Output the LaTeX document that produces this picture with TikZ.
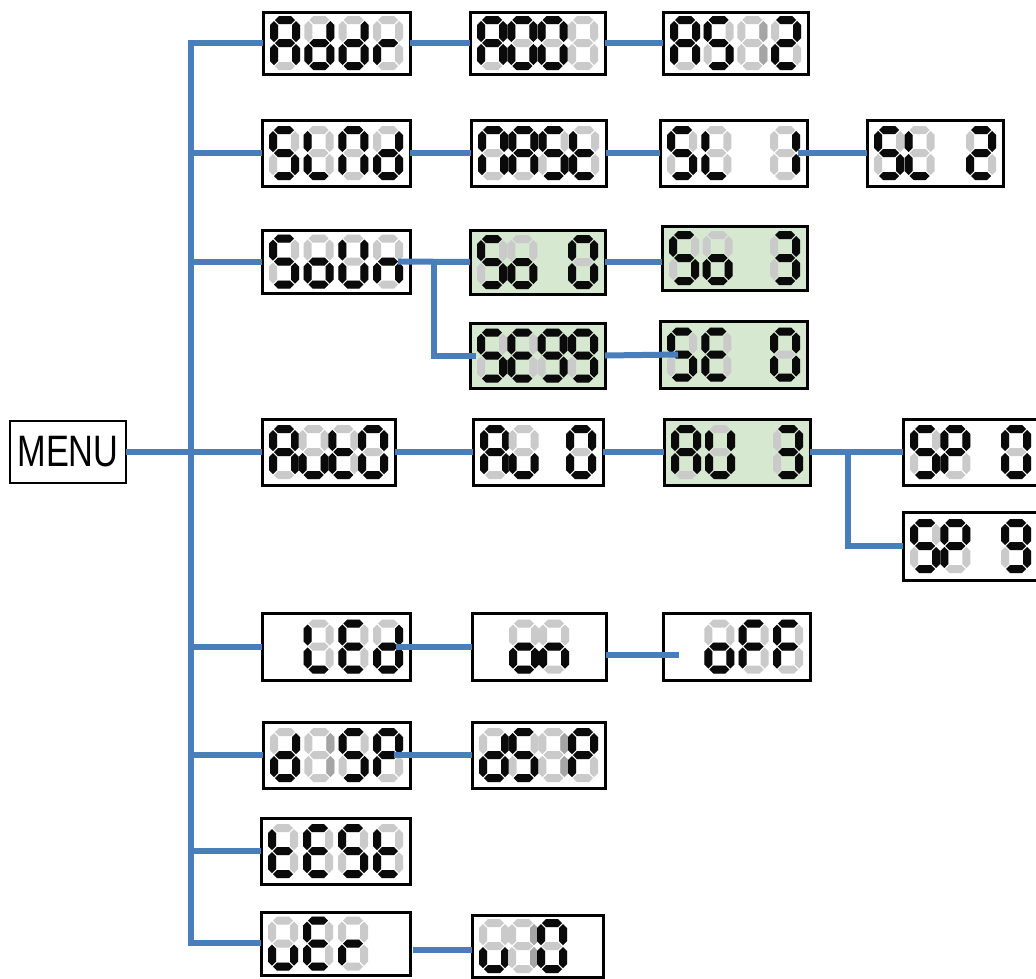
\documentclass[tikz,border=0pt]{standalone}
\usepackage{fontspec}
\usepackage{graphicx}
\newfontfamily\menufont{Liberation Sans}
\definecolor{connc}{RGB}{74,126,187}
\definecolor{lcdgreen}{RGB}{214,232,208}
\definecolor{segoff}{RGB}{202,202,202}
\definecolor{segmid}{RGB}{165,165,165}
\definecolor{segon}{RGB}{10,10,10}
% seven segments (digit 30 x 54, thickness 8), origin top-left, y down
\expandafter\def\csname sgma\endcsname#1{\fill[#1] (5,4)--(9,0)--(21,0)--(25,4)--(21,8)--(9,8)--cycle;}
\expandafter\def\csname sgmg\endcsname#1{\fill[#1] (5,27)--(9,23)--(21,23)--(25,27)--(21,31)--(9,31)--cycle;}
\expandafter\def\csname sgmd\endcsname#1{\fill[#1] (5,50)--(9,46)--(21,46)--(25,50)--(21,54)--(9,54)--cycle;}
\expandafter\def\csname sgmf\endcsname#1{\fill[#1] (4,5)--(8,9)--(8,22)--(4,26)--(0,22)--(0,9)--cycle;}
\expandafter\def\csname sgme\endcsname#1{\fill[#1] (4,28)--(8,32)--(8,45)--(4,49)--(0,45)--(0,32)--cycle;}
\expandafter\def\csname sgmb\endcsname#1{\fill[#1] (26,5)--(30,9)--(30,22)--(26,26)--(22,22)--(22,9)--cycle;}
\expandafter\def\csname sgmc\endcsname#1{\fill[#1] (26,28)--(30,32)--(30,45)--(26,49)--(22,45)--(22,32)--cycle;}
\def\blankmark{-}
\def\fademark{m}
\def\graymark{*}
\newcommand\onedig[3]{%
  \def\tmpspec{#3}%
  \ifx\tmpspec\blankmark\else
    \begin{scope}[shift={(#1,#2)}]
      \foreach \s in {a,b,c,d,e,f,g}{\csname sgm\s\endcsname{segoff}}
      \ifx\tmpspec\fademark
        \foreach \s in {b,c}{\csname sgm\s\endcsname{segmid}}
      \else\ifx\tmpspec\graymark\else
        \foreach \s in {#3}{\csname sgm\s\endcsname{segon}}
      \fi\fi
    \end{scope}
  \fi}
\newcommand\disp[6]{%
  \node[dispbox,#6,minimum width=#4pt,minimum height=#5pt,anchor=north west] (#1) at (#2,#3) {};%
  \gdef\cx{#2}\gdef\cy{#3}\gdef\cw{#4}\gdef\ch{#5}}
\newcommand\digits[4]{%
  \pgfmathsetmacro\pp{(\cw-44)/3}%
  \pgfmathsetmacro\yy{\cy+(\ch-54)/2}%
  \pgfmathsetmacro\xa{\cx+7}\onedig{\xa}{\yy}{#1}%
  \pgfmathsetmacro\xa{\cx+7+\pp}\onedig{\xa}{\yy}{#2}%
  \pgfmathsetmacro\xa{\cx+7+2*\pp}\onedig{\xa}{\yy}{#3}%
  \pgfmathsetmacro\xa{\cx+7+3*\pp}\onedig{\xa}{\yy}{#4}}
\begin{document}
\begin{tikzpicture}[x=1pt,y=-1pt,
  dispbox/.style={draw=black,line width=3pt,fill=white,inner sep=0pt,outer sep=0pt},
  green/.style={fill=lcdgreen},
  conn/.style={draw=connc,line width=6pt}]
\fill[white] (0,0) rectangle (1036,978);
\useasboundingbox (0,0) rectangle (1036,978);
% MENU
\node[dispbox,line width=2pt,minimum width=116pt,minimum height=62pt,anchor=north west,font=\menufont\fontsize{44}{44}\selectfont] (menu) at (10,421) {\scalebox{0.78}[1]{MENU}};
% row 1
\disp{addr}{263}{12}{147}{62}{}\digits{a,b,c,e,f,g}{b,c,d,e,g}{b,c,d,e,g}{e,g}
\disp{a001}{470}{12}{135}{62}{}\digits{a,b,c,e,f,g}{a,b,c,d,e,f}{a,b,c,d,e,f}{*}
\disp{a512}{663}{12}{145}{62}{}\digits{a,b,c,e,f,g}{a,c,d,f,g}{m}{a,b,d,e,g}
% row 2
\disp{slnd}{262}{120}{148}{66}{}\digits{a,c,d,f,g}{d,e,f}{a,b,c,e,f}{b,c,d,e,g}
\disp{nast}{471}{120}{135}{66}{}\digits{a,b,c,e,f}{a,b,c,e,f,g}{a,c,d,f,g}{d,e,f,g}
\disp{sl1}{660}{120}{147}{66}{}\digits{a,c,d,f,g}{d,e,f}{-}{b,c}
\disp{sl2}{867}{120}{136}{66}{}\digits{a,c,d,f,g}{d,e,f}{-}{a,b,d,e,g}
% row 3
\disp{soun}{262}{230}{148}{63}{}\digits{a,c,d,f,g}{c,d,e,g}{b,c,d,e,f}{c,e,g}
\disp{so0}{470}{230}{135}{64}{green}\digits{a,c,d,f,g}{c,d,e,g}{-}{a,b,c,d,e,f}
\disp{so3}{662}{226}{145}{64}{green}\digits{a,c,d,f,g}{c,d,e,g}{-}{a,b,c,d,g}
\disp{se99}{470}{323}{135}{65}{green}\digits{a,c,d,f,g}{a,d,e,f,g}{a,b,c,d,f,g}{a,b,c,d,f,g}
\disp{se0}{660}{321}{147}{67}{green}\digits{a,c,d,f,g}{a,d,e,f,g}{-}{a,b,c,d,e,f}
% row 4
\disp{auto}{262}{419}{133}{66}{}\digits{a,b,c,e,f,g}{c,d,e}{d,e,f,g}{a,b,c,d,e,f}
\disp{au0}{473}{419}{130}{66}{}\digits{a,b,c,e,f,g}{c,d,e}{-}{a,b,c,d,e,f}
\disp{au3}{664}{419}{146}{66}{green}\digits{a,b,c,e,f,g}{b,c,d,e,f}{-}{a,b,c,d,g}
\disp{sp0}{903}{419}{135}{66}{}\digits{a,c,d,f,g}{a,b,e,f,g}{-}{a,b,c,d,e,f}
\disp{sp9}{903}{512}{135}{68}{}\digits{a,c,d,f,g}{a,b,e,f,g}{-}{a,b,c,d,f,g}
% row 5
\disp{led}{262}{613}{148}{67}{}\digits{-}{d,e,f}{a,d,e,f,g}{b,c,d,e,g}
\disp{nOn}{472}{613}{134}{67}{}\digits{-}{c,d,e,g}{c,e,g}{-}
\disp{nOff}{663}{613}{147}{67}{}\digits{-}{c,d,e,g}{a,e,f,g}{a,e,f,g}
% row 6
\disp{disp}{263}{722}{147}{66}{}\digits{b,c,d,e,g}{m}{a,c,d,f,g}{a,b,e,f,g}
\disp{ds1p}{472}{722}{133}{66}{}\digits{b,c,d,e,g}{a,c,d,f,g}{m}{a,b,e,f,g}
% row 7
\disp{test}{261}{818}{149}{66}{}\digits{d,e,f,g}{a,d,e,f,g}{a,c,d,f,g}{d,e,f,g}
% row 8
\disp{uer}{261}{912}{149}{63}{}\digits{c,d,e}{a,d,e,f,g}{e,g}{-}
\disp{u10}{472}{915}{131}{62}{}\digits{c,d,e}{m}{a,b,c,d,e,f}{-}
% connectors
\coordinate (bustop) at (191,43);
\coordinate (busbot) at (191,943);
\draw[conn] (addr.west) -| (busbot) -- (busbot -| uer.west);
\draw[conn] (slnd.west) -- (slnd.west -| bustop);
\draw[conn] (soun.west) -- (soun.west -| bustop);
\draw[conn] (menu.east) -- (auto.west);
\draw[conn] (led.west) -- (led.west -| bustop);
\draw[conn] (disp.west) -- (disp.west -| bustop);
\draw[conn] (test.west) -- (test.west -| bustop);
\draw[conn] (addr.east) -- (a001.west);
\draw[conn] (a001.east) -- (a512.west);
\draw[conn] (slnd.east) -- (nast.west);
\draw[conn] (nast.east) -- (sl1.west);
\draw[conn] ([xshift=-9pt]sl1.east) -- (sl2.west);
\coordinate (j1) at ([xshift=24pt]soun.east);
\draw[conn] ([xshift=-12pt]soun.east) -- (so0.west);
\draw[conn] (j1) |- ([xshift=6pt]se99.west);
\draw[conn] (so0.east) -- (so0.east -| so3.west);
\draw[conn] (se99.east) -- ([xshift=18pt]se0.west);
\draw[conn] (auto.east) -- (au0.west);
\draw[conn] (au0.east) -- (au3.west);
\coordinate (j2) at (848,452);
\draw[conn] (au3.east) -- (j2) -- (sp0.west);
\draw[conn] (j2) |- (sp9.west);
\draw[conn] ([xshift=-14pt]led.east) -- (nOn.west);
\coordinate (k1) at ([yshift=-8pt]nOn.east);
\draw[conn] (k1) -- ([xshift=16pt]k1 -| nOff.west);
\draw[conn] ([xshift=-16pt]disp.east) -- (ds1p.west);
\coordinate (k2) at ([xshift=3pt,yshift=-6pt]uer.east);
\draw[conn] (k2) -- (k2 -| u10.west);
\end{tikzpicture}
\end{document}
